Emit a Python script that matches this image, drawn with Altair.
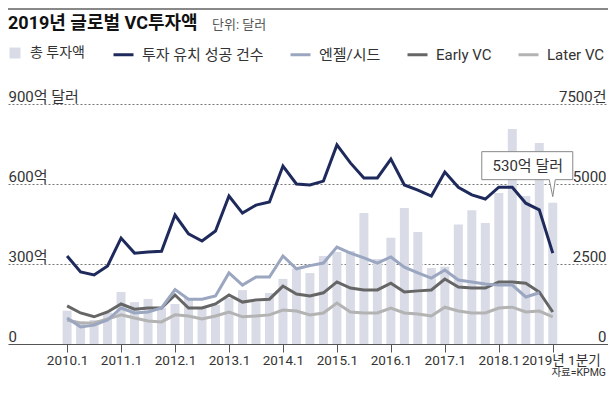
import json
import altair as alt
import pandas as pd

FONT = "Roboto, 'Noto Sans CJK KR', sans-serif"

# ---- data ----
quarter_index = list(range(37))  # 2010.1 ... 2019.1
year_labels = ["2010.1", "2011.1", "2012.1", "2013.1", "2014.1", "2015.1",
               "2016.1", "2017.1", "2018.1", "2019년 1분기"]

# total investment, 억 달러
total_invest = [125, 85, 90, 118, 195, 157, 169, 135, 150, 172, 135, 146,
                172, 202, 157, 191, 244, 283, 266, 330, 345, 349, 491, 319,
                398, 510, 420, 285, 290, 448, 502, 454, 566, 806, 555, 754, 530]

# deal counts, 건
deals_total = [2750, 2250, 2156, 2440, 3310, 2840, 2875, 2900, 4030, 3440, 3220, 3530,
               4625, 4090, 4340, 4440, 5560, 5000, 4970, 5090, 6220, 5660, 5190, 5190,
               5780, 4970, 4810, 4625, 5375, 4900, 4660, 4530, 4900, 4900, 4400, 4190, 2840]
angel_seed = [810, 530, 590, 750, 1125, 970, 1000, 1125, 1700, 1400, 1400, 1500,
              2220, 1840, 2090, 2090, 2750, 2350, 2450, 2530, 3030, 2840, 2690, 2530,
              2720, 2400, 2220, 2060, 2310, 2000, 1940, 1875, 1840, 1840, 1470, 1600, None]
early_vc = [1190, 970, 850, 1000, 1250, 1090, 1125, 1125, 1530, 1125, 1125, 1250,
            1530, 1310, 1375, 1400, 1810, 1560, 1500, 1600, 1940, 1750, 1690, 1690,
            1900, 1625, 1660, 1690, 2030, 1780, 1750, 1750, 1940, 1940, 1900, 1625, 1000]
later_vc = [750, 660, 660, 780, 910, 810, 720, 690, 910, 875, 780, 875,
            1000, 850, 875, 910, 1060, 1030, 910, 970, 1280, 1000, 970, 970,
            1125, 970, 940, 875, 1150, 1030, 970, 970, 1125, 1150, 1000, 1030, 850]

series_names = ["투자 유치 성공 건수", "엔젤/시드", "Early VC", "Later VC"]
series_colors = ["#1f2a5c", "#9ba6c0", "#666666", "#b3b3b3"]
bar_label = "총 투자액"
bar_color = "#d9dce6"

left_ticks = [0, 300, 600, 900]
right_ticks = [0, 2500, 5000, 7500]

# ---- tables ----
bars_df = pd.DataFrame({"q": quarter_index, "v": total_invest, "lab": bar_label})

rows = []
for name, vals in [("Later VC", later_vc), ("Early VC", early_vc),
                   ("엔젤/시드", angel_seed), ("투자 유치 성공 건수", deals_total)]:
    for q, val in zip(quarter_index, vals):
        if val is not None:
            rows.append({"q": q, "cnt": val, "series": name})
lines_df = pd.DataFrame(rows)

callout_df = pd.DataFrame({"q": [quarter_index[-1]], "v": [total_invest[-1]],
                           "label": [f"{total_invest[-1]}억 달러"]})
one = pd.DataFrame({"a": [0]})

W, H = 600, 240

label_expr = ("datum.value % 4 === 0 ? " + json.dumps(year_labels, ensure_ascii=False)
              + "[datum.value / 4] : ''")

x_axis = alt.Axis(
    values=quarter_index,
    tickSize={"condition": {"test": "datum.value % 4 === 0", "value": 8}, "value": 5},
    tickColor="#555", tickWidth=1, domainColor="#555", domainWidth=1, grid=False,
    labelExpr=label_expr, labelFont=FONT, labelFontSize=13.5, labelColor="#333",
    labelPadding=1, labelFlush=False, labelOverlap=False, labelBound=False,
    labelOffset={"condition": {"test": "datum.value === 36", "value": 8}, "value": 0},
    title=None,
)
x_scale = alt.Scale(domain=[-4.009, 39.723], nice=False, zero=False)

left_axis = alt.Axis(
    values=left_ticks, orient="left",
    labelExpr="datum.value === 900 ? '900억 달러' : (datum.value === 0 ? '0' : datum.value + '억')",
    labelAlign="left", labelBaseline="bottom", labelPadding=0, ticks=False, tickSize=0,
    domain=False, grid=True, gridDash=[2, 2], gridColor="#777", gridWidth=1,
    gridOpacity={"condition": {"test": "datum.value === 0", "value": 0}, "value": 1},
    labelFont=FONT, labelFontSize=15, labelColor="#333", title=None,
)
right_axis = alt.Axis(
    values=right_ticks, orient="right",
    labelExpr="datum.value === 7500 ? '7500건' : datum.value + ''",
    labelAlign="right", labelBaseline="bottom", labelPadding=-2, ticks=False, tickSize=0,
    domain=False, grid=False, labelFont=FONT, labelFontSize=15, labelColor="#333", title=None,
)

bars = alt.Chart(bars_df).mark_bar(size=9).encode(
    x=alt.X("q:Q", scale=x_scale, axis=x_axis),
    y=alt.Y("v:Q", scale=alt.Scale(domain=[0, 900], nice=False), axis=left_axis),
    color=alt.Color("lab:N", scale=alt.Scale(domain=[bar_label], range=[bar_color]),
                    legend=alt.Legend(orient="none", legendX=0, legendY=-58, title=None,
                                      symbolType="square", symbolSize=121, symbolStrokeWidth=0,
                                      labelFont=FONT, labelFontSize=14, labelColor="#333",
                                      labelOffset=8, padding=0, direction="horizontal")),
)

box_path = "M-0.71,-0.51 L0.20,-0.51 L0.20,-0.23 L0.025,-0.23 L0,-0.06 L-0.035,-0.23 L-0.71,-0.23 Z"
callout_box = alt.Chart(callout_df).mark_point(
    shape=box_path, size=40000, filled=True, fill="white", stroke="#888", strokeWidth=1, opacity=1
).encode(x=alt.X("q:Q", scale=x_scale), y=alt.Y("v:Q"))
callout_text = alt.Chart(callout_df).mark_text(
    dx=-25, dy=-37, font=FONT, fontSize=15, color="#333", align="center", baseline="middle"
).encode(x=alt.X("q:Q", scale=x_scale), y=alt.Y("v:Q"), text="label:N")

top_rule = alt.Chart(one).mark_rule(color="#888", strokeWidth=2).encode(
    x=alt.value(0), x2=alt.value(W), y=alt.value(-95))
title = alt.Chart(one).mark_text(
    text="2019년 글로벌 VC투자액", font=FONT, fontSize=18, fontWeight="bold", color="#111",
    align="left", baseline="alphabetic").encode(x=alt.value(0), y=alt.value(-75))
subtitle = alt.Chart(one).mark_text(
    text="단위: 달러", font=FONT, fontSize=13, color="#555",
    align="left", baseline="alphabetic").encode(x=alt.value(204), y=alt.value(-75))
source = alt.Chart(one).mark_text(
    text="자료=KPMG", font=FONT, fontSize=10.5, color="#333",
    align="right", baseline="alphabetic").encode(x=alt.value(W - 2), y=alt.value(272))

left_layer = alt.layer(bars, callout_box, callout_text, top_rule, title, subtitle, source)

lines = alt.Chart(lines_df).mark_line(strokeWidth=3).encode(
    x=alt.X("q:Q", scale=x_scale),
    y=alt.Y("cnt:Q", scale=alt.Scale(domain=[0, 7500], nice=False), axis=right_axis),
    color=alt.Color("series:N", scale=alt.Scale(domain=series_names, range=series_colors),
                    legend=alt.Legend(orient="none", legendX=104, legendY=-61, title=None,
                                      symbolType="stroke", symbolSize=400, symbolStrokeWidth=3,
                                      labelFont=FONT, labelFontSize=15, labelColor="#333",
                                      labelOffset=7, columnPadding=20, padding=0,
                                      direction="horizontal")),
    detail="series:N",
)

chart = alt.layer(left_layer, lines).resolve_scale(
    y="independent", color="independent"
).properties(
    width=W, height=H, autosize="none",
    padding={"left": 0, "top": 96, "right": 0, "bottom": 36},
).configure_view(stroke=None)

chart.save("out.html", embed_options={"renderer": "svg", "actions": False})
